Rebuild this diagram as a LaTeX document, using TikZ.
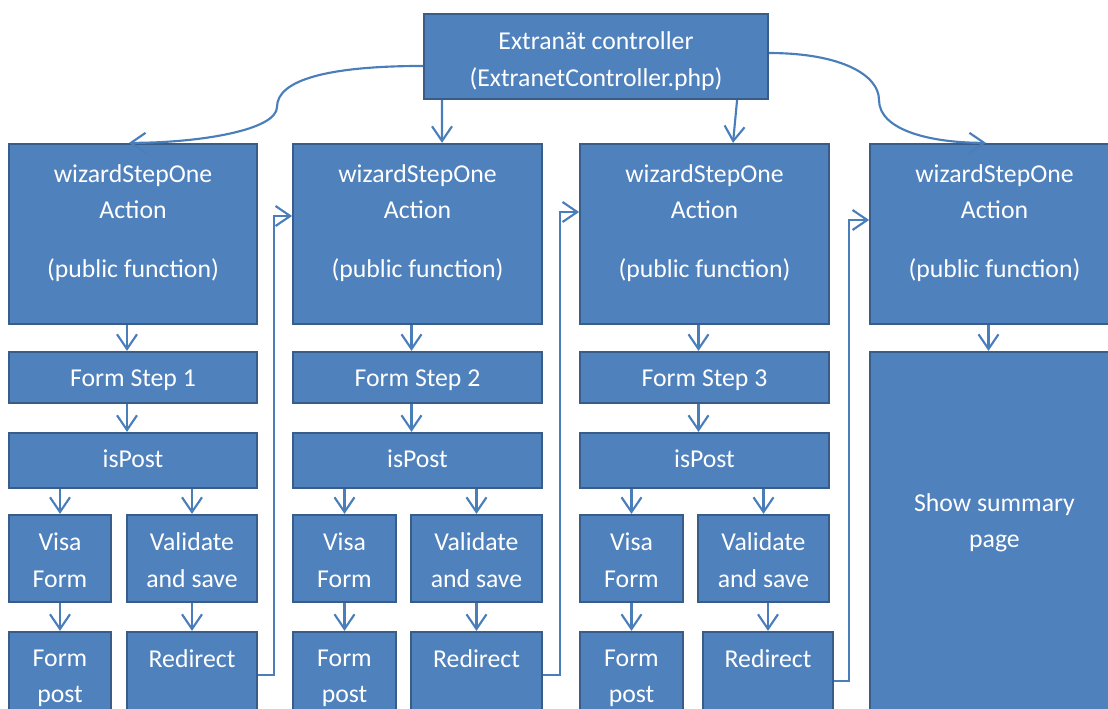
\documentclass[tikz,border=0pt]{standalone}
\usepackage{fontspec}
\setmainfont{Carlito}
\usetikzlibrary{arrows.meta}

\definecolor{boxfill}{RGB}{79,129,189}
\definecolor{boxedge}{RGB}{56,93,138}
\definecolor{conn}{RGB}{74,126,187}

\tikzset{every picture/.style={line width=0.75pt}}
\tikzset{
  box/.style={draw=boxedge, fill=boxfill, line width=1.7pt, inner sep=0pt},
  txt/.style={text=white, align=center, inner sep=0pt, anchor=north,
    font=\fontsize{19.3}{27.5}\selectfont, execute at begin node=\strut},
  arr/.style={draw=conn, line width=1.6pt, -{Straight Barb[length=11pt,width=15pt]}},
}

\begin{document}
\begin{tikzpicture}[x=0.75pt,y=0.75pt,yscale=-1,xscale=1]
	\clip (0,0) rectangle (1108,709);

	% controller
	\node[box, minimum width=258pt, minimum height=63.75pt] (ext) at (596,56.5) {};
	\node[txt] (extt) at ([yshift=13.7pt]ext.north) {Extranät controller\\(ExtranetController.php)};

	% action boxes
	\node[box, minimum width=186.4pt, minimum height=135pt] (act1) at (133,234) {};
	\node[box, minimum width=186.4pt, minimum height=135pt] (act2) at (417.5,234) {};
	\node[box, minimum width=186.4pt, minimum height=135pt] (act3) at (704.5,234) {};
	\node[box, minimum width=186.4pt, minimum height=135pt] (act4) at (994.5,234) {};
	\node[txt] (act1t) at ([yshift=15.75pt]act1.north) {wizardStepOne\\Action\\[16.3pt](public function)};
	\node[txt] (act2t) at ([yshift=15.75pt]act2.north) {wizardStepOne\\Action\\[16.3pt](public function)};
	\node[txt] (act3t) at ([yshift=15.75pt]act3.north) {wizardStepOne\\Action\\[16.3pt](public function)};
	\node[txt] (act4t) at ([yshift=15.75pt]act4.north) {wizardStepOne\\Action\\[16.3pt](public function)};

	% form steps
	\node[box, minimum width=186.4pt, minimum height=38.25pt] (step1) at (133,377.5) {};
	\node[box, minimum width=186.4pt, minimum height=38.25pt] (step2) at (417.5,377.5) {};
	\node[box, minimum width=186.4pt, minimum height=38.25pt] (step3) at (704.5,377.5) {};
	\node[txt] (step1t) at ([yshift=7pt]step1.north) {Form Step 1};
	\node[txt] (step2t) at ([yshift=7pt]step2.north) {Form Step 2};
	\node[txt] (step3t) at ([yshift=7pt]step3.north) {Form Step 3};

	% isPost
	\node[box, minimum width=186.4pt, minimum height=41.25pt] (isp1) at (133,460.5) {};
	\node[box, minimum width=186.4pt, minimum height=41.25pt] (isp2) at (417.5,460.5) {};
	\node[box, minimum width=186.4pt, minimum height=41.25pt] (isp3) at (704.5,460.5) {};
	\node[txt] (isp1t) at ([yshift=7pt]isp1.north) {isPost};
	\node[txt] (isp2t) at ([yshift=7pt]isp2.north) {isPost};
	\node[txt] (isp3t) at ([yshift=7pt]isp3.north) {isPost};

	% visa form / validate
	\node[box, minimum width=77pt, minimum height=65.25pt] (visa1) at (60,558.5) {};
	\node[box, minimum width=77pt, minimum height=65.25pt] (visa2) at (344.5,558.5) {};
	\node[box, minimum width=77pt, minimum height=65.25pt] (visa3) at (631.5,558.5) {};
	\node[box, minimum width=98pt, minimum height=65.25pt] (val1) at (192,558.5) {};
	\node[box, minimum width=98pt, minimum height=65.25pt] (val2) at (476.5,558.5) {};
	\node[box, minimum width=98pt, minimum height=65.25pt] (val3) at (763.5,558.5) {};
	\node[txt] (visa1t) at ([yshift=13.75pt]visa1.north) {Visa\\Form};
	\node[txt] (visa2t) at ([yshift=13.75pt]visa2.north) {Visa\\Form};
	\node[txt] (visa3t) at ([yshift=13.75pt]visa3.north) {Visa\\Form};
	\node[txt] (val1t) at ([yshift=13.75pt]val1.north) {Validate\\and save};
	\node[txt] (val2t) at ([yshift=13.75pt]val2.north) {Validate\\and save};
	\node[txt] (val3t) at ([yshift=13.75pt]val3.north) {Validate\\and save};

	% form post / redirect
	\node[box, minimum width=77pt, minimum height=64.5pt] (fpost1) at (60,675) {};
	\node[box, minimum width=77pt, minimum height=64.5pt] (fpost2) at (344.5,675) {};
	\node[box, minimum width=77pt, minimum height=64.5pt] (fpost3) at (631.5,675) {};
	\node[box, minimum width=98pt, minimum height=64.5pt] (red1) at (192,675) {};
	\node[box, minimum width=98pt, minimum height=64.5pt] (red2) at (476.5,675) {};
	\node[box, minimum width=98pt, minimum height=64.5pt] (red3) at (768,675) {};
	\node[txt] (fpost1t) at ([yshift=13.75pt]fpost1.north) {Form\\post};
	\node[txt] (fpost2t) at ([yshift=13.75pt]fpost2.north) {Form\\post};
	\node[txt] (fpost3t) at ([yshift=13.75pt]fpost3.north) {Form\\post};
	\node[txt] (red1t) at ([yshift=8pt]red1.north) {Redirect};
	\node[txt] (red2t) at ([yshift=8pt]red2.north) {Redirect};
	\node[txt] (red3t) at ([yshift=8pt]red3.north) {Redirect};

	% summary
	\node[box, minimum width=186.4pt, minimum height=283.5pt] (sum) at (994.5,541) {};
	\node[txt] (sumt) at ([yshift=106.5pt]sum.north) {Show summary\\page};

	% controller to actions
	\draw[arr] ([yshift=7.1pt]ext.west) .. controls +(-95,0) and +(0,-27) .. (277,107) .. controls +(0,23) and +(71,0) .. ([xshift=-3pt]act1.north);
	\draw[arr] ([xshift=-115.5pt]ext.south) -- ([xshift=18.4pt]act2.north);
	\draw[arr] ([xshift=105.8pt]ext.south) -- ([xshift=21.4pt]act3.north);
	\draw[arr] ([yshift=-2.6pt]ext.east) .. controls +(72,0) and +(0,-25) .. (879,100) .. controls +(0,30) and +(-56,0) .. ([xshift=-6.4pt]act4.north);

	% down each column
	\draw[arr] ([xshift=-4.5pt]act1.south) -- ([xshift=-4.5pt]step1.north);
	\draw[arr] ([xshift=-4.5pt]act2.south) -- ([xshift=-4.5pt]step2.north);
	\draw[arr] ([xshift=-4.5pt]act3.south) -- ([xshift=-4.5pt]step3.north);
	\draw[arr] ([xshift=-4.5pt]act4.south) -- ([xshift=-4.5pt]sum.north);
	\draw[arr] ([xshift=-4.5pt]step1.south) -- ([xshift=-4.5pt]isp1.north);
	\draw[arr] ([xshift=-4.5pt]step2.south) -- ([xshift=-4.5pt]isp2.north);
	\draw[arr] ([xshift=-4.5pt]step3.south) -- ([xshift=-4.5pt]isp3.north);
	\draw[arr] (isp1.south -| visa1.north) -- (visa1.north);
	\draw[arr] (isp2.south -| visa2.north) -- (visa2.north);
	\draw[arr] (isp3.south -| visa3.north) -- (visa3.north);
	\draw[arr] (isp1.south -| val1.north) -- (val1.north);
	\draw[arr] (isp2.south -| val2.north) -- (val2.north);
	\draw[arr] (isp3.south -| val3.north) -- (val3.north);
	\draw[arr] (visa1.south) -- (fpost1.north);
	\draw[arr] (visa2.south) -- (fpost2.north);
	\draw[arr] (visa3.south) -- (fpost3.north);
	\draw[arr] (val1.south) -- (red1.north);
	\draw[arr] (val2.south) -- (red2.north);
	\draw[arr] (val3.south -| red3.north) -- (red3.north);

	% redirect to next action
	\draw[arr] (red1.east) -| ([xshift=-13.5pt,yshift=-13.5pt]act2.west) -- ([yshift=-13.5pt]act2.west);
	\draw[arr] (red2.east) -| ([xshift=-14.25pt,yshift=-16.5pt]act3.west) -- ([yshift=-16.5pt]act3.west);
	\draw[arr] ([yshift=4.5pt]red3.east) -| ([xshift=-15pt,yshift=-10.5pt]act4.west) -- ([yshift=-10.5pt]act4.west);

\end{tikzpicture}
\end{document}
